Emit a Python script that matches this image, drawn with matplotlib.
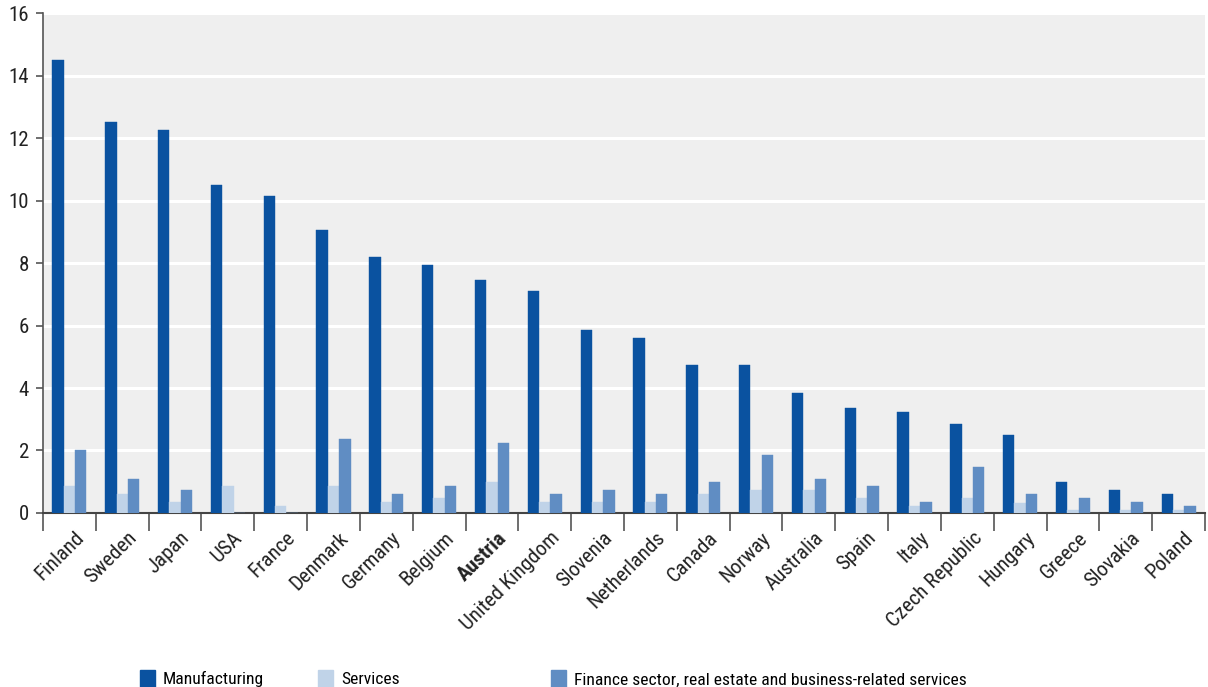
from __future__ import annotations

import matplotlib as mpl
import matplotlib.pyplot as plt
import matplotlib.transforms as mtransforms
import numpy as np
from matplotlib.patches import Patch


# =============================================================================
# Data
# =============================================================================
countries = [
    "Finland", "Sweden", "Japan", "USA", "France", "Denmark", "Germany",
    "Belgium", "Austria", "United Kingdom", "Slovenia", "Netherlands",
    "Canada", "Norway", "Australia", "Spain", "Italy", "Czech Republic",
    "Hungary", "Greece", "Slovakia", "Poland",
]
manufacturing = [
    14.5, 12.5, 12.25, 10.5, 10.15, 9.05, 8.2, 7.95, 7.45, 7.1, 5.85, 5.6,
    4.73, 4.73, 3.85, 3.35, 3.22, 2.85, 2.48, 0.98, 0.72, 0.6,
]
services = [
    0.85, 0.6, 0.35, 0.85, 0.22, 0.85, 0.35, 0.48, 0.98, 0.35, 0.35, 0.35,
    0.6, 0.73, 0.73, 0.47, 0.22, 0.47, 0.33, 0.1, 0.1, 0.1,
]
finance = [
    2.0, 1.1, 0.73, 0.0, 0.0, 2.36, 0.6, 0.85, 2.23, 0.6, 0.73, 0.6,
    0.98, 1.86, 1.1, 0.85, 0.35, 1.48, 0.6, 0.47, 0.35, 0.22,
]
series_labels = [
    "Manufacturing",
    "Services",
    "Finance sector, real estate and business-related services",
]
y_ticks = [0, 2, 4, 6, 8, 10, 12, 14, 16]
highlight = "Austria"

# colours / styles
COLORS = ["#0a52a0", "#c0d3e8", "#608dc3"]
BG = "#efefef"
FONT = ["Roboto Condensed", "Archivo Narrow", "PT Sans Narrow", "Roboto", "DejaVu Sans"]
LEGEND_X = [0.1159, 0.2632, 0.4561]   # left edge of each legend square (figure fraction)


def setup_style() -> None:
    mpl.rcParams.update(
        {
            "font.family": FONT,
            "font.size": 14.5,
            "axes.unicode_minus": False,
        }
    )


def make_figure() -> None:
    setup_style()
    fig = plt.figure(figsize=(12.08, 6.87), dpi=100)
    ax = fig.add_axes([0.0356, 0.2533, 0.9619, 0.7277])
    ax.set_facecolor(BG)

    x = np.arange(len(countries))
    width = 0.215
    for i, (vals, col) in enumerate(zip([manufacturing, services, finance], COLORS)):
        ax.bar(x + (i - 1) * width, vals, width=width, color=col,
               edgecolor=col, linewidth=0.3, zorder=3)

    ax.set_xlim(-0.5, len(countries) - 0.5)
    ax.set_ylim(0, 16)
    ax.set_yticks(y_ticks)
    ax.set_yticklabels([str(t) for t in y_ticks], fontsize=15)
    ax.yaxis.grid(True, color="white", linewidth=2.2, zorder=1)
    ax.set_axisbelow(True)

    # separators between countries below the axis, names at the centres
    ax.set_xticks(x)
    ax.set_xticks(np.arange(len(countries) + 1) - 0.5, minor=True)
    ax.tick_params(axis="x", which="major", length=0, pad=11)
    ax.tick_params(axis="x", which="minor", length=13, width=1.2, color="#555555")
    ax.tick_params(axis="y", length=5, width=1.2, color="#555555", pad=5)
    ax.set_xticklabels(countries, rotation=45, ha="right", rotation_mode="anchor",
                       fontsize=15)
    shift = mtransforms.ScaledTranslation(5 / 100, 0, fig.dpi_scale_trans)
    for lbl in ax.get_xticklabels():
        lbl.set_color("#222222")
        lbl.set_transform(lbl.get_transform() + shift)
        if lbl.get_text() == highlight:
            lbl.set_fontweight("bold")
    for lbl in ax.get_yticklabels():
        lbl.set_color("#222222")

    for side in ("top", "right"):
        ax.spines[side].set_visible(False)
    ax.spines["left"].set_color("#555555")
    ax.spines["left"].set_linewidth(1.2)
    ax.spines["bottom"].set_color("#444444")
    ax.spines["bottom"].set_linewidth(1.5)

    # three separate legend entries, their spacing in the original is uneven
    for lx, col, lab in zip(LEGEND_X, COLORS, series_labels):
        fig.legend([Patch(facecolor=col, edgecolor=col)], [lab], loc="center left",
                   bbox_to_anchor=(lx, 0.012), frameon=False, fontsize=12.6,
                   borderpad=0, borderaxespad=0, handlelength=0.86,
                   handleheight=1.1, handletextpad=0.46)

    fig.savefig("out.png", dpi=100)
    plt.close(fig)


if __name__ == "__main__":
    make_figure()
